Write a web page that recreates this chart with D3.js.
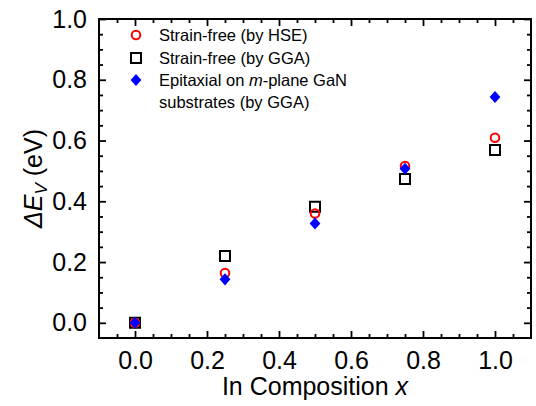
<!DOCTYPE html>
<html>
<head>
<meta charset="utf-8">
<script src="https://cdn.jsdelivr.net/npm/d3@7"></script>
<style>
  body { margin: 0; background: #fff; }
  svg { display: block; font-family: Arial, "Liberation Sans", sans-serif; }
</style>
</head>
<body>
<div id="chart"></div>
<script>
// data
const composition = [0, 0.25, 0.5, 0.75, 1.0];
const hseStrainFree = [0.0, 0.164, 0.36, 0.516, 0.609];
const ggaStrainFree = [0.0, 0.22, 0.382, 0.473, 0.569];
const ggaEpitaxial = [0.0, 0.143, 0.327, 0.507, 0.743];
const xTicks = [0, 0.2, 0.4, 0.6, 0.8, 1.0];
const yTicks = [0, 0.2, 0.4, 0.6, 0.8, 1.0];

const W = 536, H = 406;
const plotL = 99, plotR = 531, plotT = 19, plotB = 338;

const svg = d3.select('#chart').append('svg')
  .attr('width', W).attr('height', H);

const x = d3.scaleLinear().domain([-0.1, 1.1]).range([plotL, plotR]);
const y = d3.scaleLinear().domain([-0.05, 1.0]).range([plotB, plotT]);

// minor ticks every 0.05
const xMinor = d3.range(-0.05, 1.1, 0.05).map(v => +v.toFixed(2)).filter(v => !xTicks.some(t => Math.abs(t - v) < 1e-6));
const yMinor = d3.range(0.05, 1.0, 0.05).map(v => +v.toFixed(2)).filter(v => !yTicks.some(t => Math.abs(t - v) < 1e-6));

const fmt = d3.format('.1f');
const tickStyle = g => {
  g.select('.domain').remove();
  g.selectAll('line').attr('stroke', '#000').attr('stroke-width', 1.8);
  g.selectAll('text').attr('fill', '#000').style('font-size', '25px');
};

// major axes (ticks inside)
svg.append('g').attr('transform', `translate(0,${plotB})`)
  .call(d3.axisBottom(x).tickValues(xTicks).tickFormat(fmt).tickSizeInner(-7).tickPadding(13))
  .call(tickStyle);
svg.append('g').attr('transform', `translate(${plotL},0)`)
  .call(d3.axisLeft(y).tickValues(yTicks).tickFormat(fmt).tickSizeInner(-7).tickPadding(12))
  .call(tickStyle);
svg.append('g').attr('transform', `translate(0,${plotT})`)
  .call(d3.axisTop(x).tickValues(xTicks).tickFormat('').tickSizeInner(-7))
  .call(tickStyle);
svg.append('g').attr('transform', `translate(${plotR},0)`)
  .call(d3.axisRight(y).tickValues(yTicks).tickFormat('').tickSizeInner(-7))
  .call(tickStyle);

// minor ticks
svg.append('g').attr('transform', `translate(0,${plotB})`)
  .call(d3.axisBottom(x).tickValues(xMinor).tickFormat('').tickSizeInner(-4)).call(tickStyle);
svg.append('g').attr('transform', `translate(0,${plotT})`)
  .call(d3.axisTop(x).tickValues(xMinor).tickFormat('').tickSizeInner(-4)).call(tickStyle);
svg.append('g').attr('transform', `translate(${plotL},0)`)
  .call(d3.axisLeft(y).tickValues(yMinor).tickFormat('').tickSizeInner(-4)).call(tickStyle);
svg.append('g').attr('transform', `translate(${plotR},0)`)
  .call(d3.axisRight(y).tickValues(yMinor).tickFormat('').tickSizeInner(-4)).call(tickStyle);

// frame
svg.append('rect')
  .attr('x', plotL).attr('y', plotT)
  .attr('width', plotR - plotL).attr('height', plotB - plotT)
  .attr('fill', 'none').attr('stroke', '#000').attr('stroke-width', 2);

// markers
const squareSym = d3.symbol().type(d3.symbolSquare).size(100);
const diamondSym = d3.symbol().type(d3.symbolSquare).size(58);

function drawSquare(g, cx, cy) {
  g.append('path').attr('d', squareSym())
    .attr('transform', `translate(${cx},${cy})`)
    .attr('fill', 'none').attr('stroke', '#000').attr('stroke-width', 2);
}
function drawCircle(g, cx, cy) {
  g.append('circle').attr('cx', cx).attr('cy', cy).attr('r', 4.3)
    .attr('fill', 'none').attr('stroke', '#ff0000').attr('stroke-width', 2);
}
function drawDiamond(g, cx, cy) {
  // rotated square, a bit taller than wide
  g.append('path').attr('d', diamondSym())
    .attr('transform', `translate(${cx},${cy}) scale(1,1.12) rotate(45)`)
    .attr('fill', '#0000ff');
}

const pts = svg.append('g');
composition.forEach((c, i) => drawSquare(pts, x(c), y(ggaStrainFree[i])));
composition.forEach((c, i) => drawCircle(pts, x(c), y(hseStrainFree[i])));
composition.forEach((c, i) => drawDiamond(pts, x(c), y(ggaEpitaxial[i])));

// legend
const lg = svg.append('g').style('font-size', '16.5px');
const lx = 136, tx = 159;
drawCircle(lg, lx, 35);
drawSquare(lg, lx, 58);
drawDiamond(lg, lx, 80);
lg.append('text').attr('x', tx).attr('y', 41).text('Strain-free (by HSE)');
lg.append('text').attr('x', tx).attr('y', 64).text('Strain-free (by GGA)');
const t3 = lg.append('text').attr('x', tx).attr('y', 86);
t3.append('tspan').text('Epitaxial on ');
t3.append('tspan').style('font-style', 'italic').text('m');
t3.append('tspan').text('-plane GaN');
lg.append('text').attr('x', tx).attr('y', 108).text('substrates (by GGA)');

// axis titles
const xt = svg.append('text')
  .attr('x', (plotL + plotR) / 2).attr('y', 395)
  .attr('text-anchor', 'middle').style('font-size', '25px');
xt.append('tspan').text('In Composition ');
xt.append('tspan').style('font-style', 'italic').text('x');

const yt = svg.append('text')
  .attr('transform', `translate(42,${(plotT + plotB) / 2}) rotate(-90)`)
  .attr('text-anchor', 'middle').style('font-size', '25px');
yt.append('tspan').style('font-style', 'italic').text('ΔE');
yt.append('tspan').style('font-style', 'italic').style('font-size', '17px').attr('dy', 5).text('V');
yt.append('tspan').attr('dy', -5).text(' (eV)');
</script>
</body>
</html>
